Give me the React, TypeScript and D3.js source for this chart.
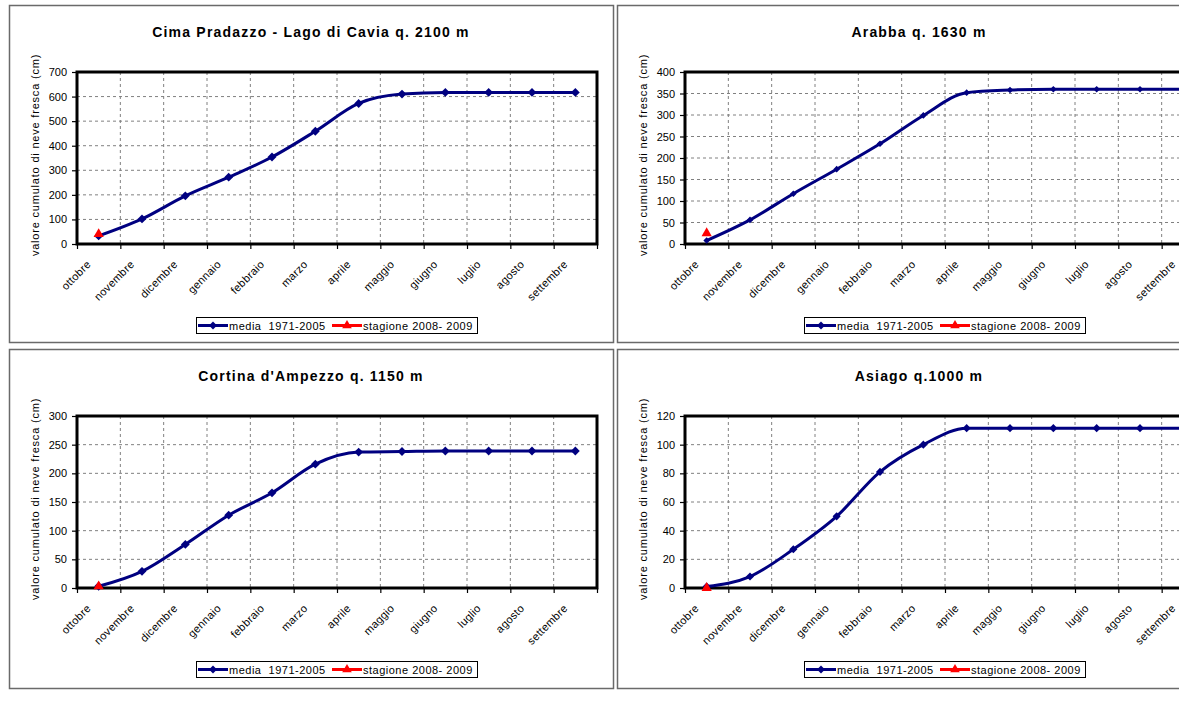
import { useRef, useEffect } from "react";
import * as d3 from "d3";

const mesi = [
  "ottobre",
  "novembre",
  "dicembre",
  "gennaio",
  "febbraio",
  "marzo",
  "aprile",
  "maggio",
  "giugno",
  "luglio",
  "agosto",
  "settembre",
];

// Cima Pradazzo - Lago di Cavia
const cimaMedia = [33, 102, 196, 272, 354, 459, 572, 610, 617, 617, 617, 617];
const cimaStagione = [40];
const cimaTicks = [0, 100, 200, 300, 400, 500, 600, 700];

// Arabba
const arabbaMedia = [8, 56, 117, 174, 233, 299, 352, 358, 360, 360, 360, 360];
const arabbaStagione = [25];
const arabbaTicks = [0, 50, 100, 150, 200, 250, 300, 350, 400];

// Cortina d'Ampezzo
const cortinaMedia = [3, 29, 76, 127, 166, 216, 237, 238, 239, 239, 239, 239];
const cortinaStagione = [3];
const cortinaTicks = [0, 50, 100, 150, 200, 250, 300];

// Asiago
const asiagoMedia = [1, 8, 27, 50, 81, 100, 111.5, 111.5, 111.5, 111.5, 111.5, 111.5];
const asiagoStagione = [0];
const asiagoTicks = [0, 20, 40, 60, 80, 100, 120];

const legendLabels = ["media  1971-2005", "stagione 2008- 2009"];
const yTitle = "valore cumulato di neve fresca (cm)";

const FONT = "'Liberation Sans', Arial, sans-serif";
const NAVY = "#000080";
const RED = "#ff0000";

const panels = [
  { title: "Cima Pradazzo - Lago di Cavia q. 2100 m", media: cimaMedia, stagione: cimaStagione, ticks: cimaTicks, x: 9, y: 5, h: 337, mk: 50 },
  { title: "Arabba q. 1630 m", media: arabbaMedia, stagione: arabbaStagione, ticks: arabbaTicks, x: 617, y: 5, h: 337, mk: 28 },
  { title: "Cortina d'Ampezzo q. 1150 m", media: cortinaMedia, stagione: cortinaStagione, ticks: cortinaTicks, x: 9, y: 349, h: 339, mk: 50 },
  { title: "Asiago q.1000 m", media: asiagoMedia, stagione: asiagoStagione, ticks: asiagoTicks, x: 617, y: 349, h: 339, mk: 42 },
];

const W = 1179;
const H = 719;

const App = () => {
  const svgRef = useRef(null);

  useEffect(() => {
    const svg = d3.select(svgRef.current);
    svg.selectAll("*").remove();

    svg.append("rect").attr("width", W).attr("height", H).attr("fill", "white");

    // area del grafico dentro ogni riquadro
    const pl = 68, pr = 588, pt = 67, pb = 239;

    panels.forEach((p) => {
      const g = svg.append("g").attr("transform", `translate(${p.x},${p.y})`);

      g.append("rect")
        .attr("x", 0.5)
        .attr("y", 0.5)
        .attr("width", 604)
        .attr("height", p.h)
        .attr("fill", "white")
        .attr("stroke", "#6a6a6a")
        .attr("stroke-width", 1.5);

      const x = d3.scaleBand().domain(mesi).range([pl, pr]);
      const xb = d3.scaleLinear().domain([0, mesi.length]).range([pl, pr]);
      const y = d3.scaleLinear().domain([0, d3.max(p.ticks)]).range([pb, pt]);
      const cx = (i) => x(mesi[i]) + x.bandwidth() / 2;

      // griglia tratteggiata
      g.append("g")
        .selectAll("line")
        .data(p.ticks.slice(1, -1))
        .join("line")
        .attr("x1", pl)
        .attr("x2", pr)
        .attr("y1", (d) => y(d))
        .attr("y2", (d) => y(d))
        .attr("stroke", "#808080")
        .attr("stroke-dasharray", "3,3");

      g.append("g")
        .selectAll("line")
        .data(d3.range(1, mesi.length))
        .join("line")
        .attr("x1", (d) => xb(d))
        .attr("x2", (d) => xb(d))
        .attr("y1", pt)
        .attr("y2", pb)
        .attr("stroke", "#808080")
        .attr("stroke-dasharray", "3,3");

      // assi
      const yAxis = g
        .append("g")
        .attr("transform", `translate(${pl},0)`)
        .call(d3.axisLeft(y).tickValues(p.ticks).tickSize(5).tickPadding(5));
      yAxis.select(".domain").remove();
      yAxis.selectAll("line").attr("stroke", "black").attr("stroke-width", 1.2);
      yAxis.selectAll("text").attr("font-family", FONT).attr("font-size", 11).attr("fill", "black");

      const xTicks = g
        .append("g")
        .attr("transform", `translate(0,${pb})`)
        .call(d3.axisBottom(xb).tickValues(d3.range(0, mesi.length + 1)).tickSize(5).tickFormat(() => ""));
      xTicks.select(".domain").remove();
      xTicks.selectAll("line").attr("stroke", "black").attr("stroke-width", 1.2);

      const xAxis = g
        .append("g")
        .attr("transform", `translate(0,${pb})`)
        .call(d3.axisBottom(x).tickSize(0));
      xAxis.select(".domain").remove();
      xAxis
        .selectAll("text")
        .attr("x", 0)
        .attr("y", 0)
        .attr("dy", null)
        .attr("transform", "translate(-7,21) rotate(-45)")
        .attr("text-anchor", "end")
        .attr("font-family", FONT)
        .attr("font-size", 11)
        .attr("letter-spacing", 0.3)
        .attr("fill", "black");

      // cornice area del grafico
      g.append("rect")
        .attr("x", pl)
        .attr("y", pt)
        .attr("width", pr - pl)
        .attr("height", pb - pt)
        .attr("fill", "none")
        .attr("stroke", "black")
        .attr("stroke-width", 3);

      // serie media
      const line = d3
        .line()
        .x((d, i) => cx(i))
        .y((d) => y(d))
        .curve(d3.curveMonotoneX);

      g.append("path")
        .datum(p.media)
        .attr("d", line)
        .attr("fill", "none")
        .attr("stroke", NAVY)
        .attr("stroke-width", 3);

      g.append("g")
        .selectAll("path")
        .data(p.media)
        .join("path")
        .attr("transform", (d, i) => `translate(${cx(i)},${y(d)})`)
        .attr("d", d3.symbol(d3.symbolDiamond2, p.mk))
        .attr("fill", NAVY);

      // stagione 2008-2009
      g.append("g")
        .selectAll("path")
        .data(p.stagione)
        .join("path")
        .attr("transform", (d, i) => `translate(${cx(i)},${y(d)})`)
        .attr("d", d3.symbol(d3.symbolTriangle, 45))
        .attr("fill", RED);

      // titolo
      g.append("text")
        .attr("x", 302)
        .attr("y", 31.5)
        .attr("text-anchor", "middle")
        .attr("font-family", FONT)
        .attr("font-size", 14)
        .attr("font-weight", "bold")
        .attr("letter-spacing", 1.2)
        .text(p.title);

      // titolo asse y
      g.append("text")
        .attr("transform", `translate(30,${(pt + pb) / 2 - 3}) rotate(-90)`)
        .attr("text-anchor", "middle")
        .attr("font-family", FONT)
        .attr("font-size", 11)
        .attr("letter-spacing", 0.8)
        .text(yTitle);

      // legenda
      const lg = g.append("g").attr("transform", `translate(187,312)`);
      lg.append("rect")
        .attr("x", 0.5)
        .attr("y", 0.5)
        .attr("width", 281)
        .attr("height", 16)
        .attr("fill", "white")
        .attr("stroke", "black");
      const items = [
        { label: legendLabels[0], color: NAVY, sym: d3.symbolDiamond2, size: 40, x0: 2 },
        { label: legendLabels[1], color: RED, sym: d3.symbolTriangle, size: 40, x0: 136 },
      ];
      items.forEach((it) => {
        lg.append("line")
          .attr("x1", it.x0)
          .attr("x2", it.x0 + 30)
          .attr("y1", 8.5)
          .attr("y2", 8.5)
          .attr("stroke", it.color)
          .attr("stroke-width", 3);
        lg.append("path")
          .attr("transform", `translate(${it.x0 + 15},8.5)`)
          .attr("d", d3.symbol(it.sym, it.size))
          .attr("fill", it.color);
        lg.append("text")
          .attr("x", it.x0 + 31)
          .attr("y", 12.5)
          .attr("font-family", FONT)
          .attr("font-size", 11)
          .attr("letter-spacing", 0.5)
          .attr("xml:space", "preserve")
          .style("white-space", "pre")
          .text(it.label);
      });
    });
  }, []);

  return (
    <svg
      ref={svgRef}
      width={W}
      height={H}
      style={{ position: "absolute", left: 0, top: 0, display: "block" }}
    ></svg>
  );
};

export default App;
